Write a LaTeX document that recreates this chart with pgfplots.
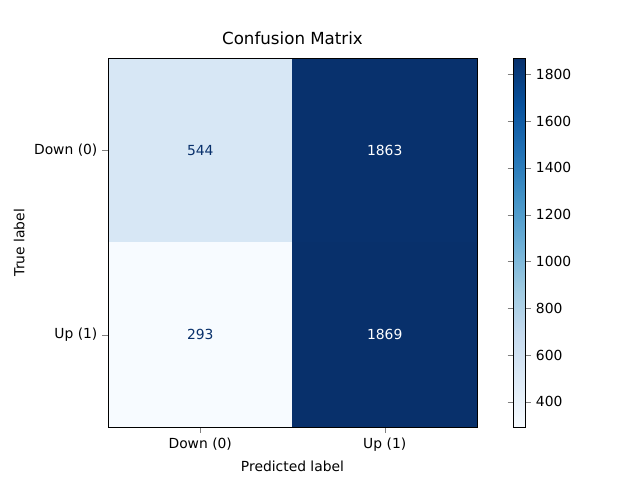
\documentclass[border=0pt]{standalone}
\usepackage{pgfplots}
\pgfplotsset{compat=1.18}
\usepackage{fontspec}
\setmainfont{DejaVu Sans}
\definecolor{dtext}{RGB}{8,48,107}
\begin{document}
\fontsize{10.4}{12}\selectfont
\begin{tikzpicture}
\useasboundingbox (0,0) rectangle (480pt,360pt);
\begin{axis}[
  at={(81pt,39.75pt)}, anchor=south west,
  scale only axis, width=276.75pt, height=276.75pt,
  xmin=-0.5, xmax=1.5, ymin=-0.5, ymax=1.5, y dir=reverse,
  xtick={0,1}, ytick={0,1},
  xticklabels={Down (0),Up (1)}, yticklabels={Down (0),Up (1)},
  tick align=outside, tick pos=left,
  xlabel={Predicted label}, ylabel={True label},
  title={\fontsize{12.5}{14}\selectfont Confusion Matrix},
  ticklabel style={font=\fontsize{10.4}{12}\selectfont},
  label style={font=\fontsize{10.4}{12}\selectfont},
  axis on top,
  colormap={blues}{rgb255=(247,251,255) rgb255=(222,235,247) rgb255=(198,219,239) rgb255=(158,202,225) rgb255=(107,174,214) rgb255=(66,146,198) rgb255=(33,113,181) rgb255=(8,81,156) rgb255=(8,48,107)},
  point meta min=293, point meta max=1869,
  colorbar,
  colorbar style={
    at={(parent axis.north east)}, anchor=north west, xshift=18.75pt,
    width=9pt,
    ytick={400,600,...,1800},
    /pgf/number format/assume math mode=true,
    /pgf/number format/set thousands separator={},
    yticklabel style={font=\fontsize{10.4}{12}\selectfont},
    tick align=outside,
  },
]
\addplot[matrix plot*, mesh/cols=2, point meta=explicit] table[meta=c] {
x y c
0 0 544
1 0 1863
0 1 293
1 1 1869
};
\addplot[only marks, mark=none, nodes near coords, point meta=explicit symbolic,
  nodes near coords style={text=dtext, anchor=center, font=\fontsize{10.4}{12}\selectfont}]
  table[meta=c] {
x y c
0 0 544
0 1 293
};
\addplot[only marks, mark=none, nodes near coords, point meta=explicit symbolic,
  nodes near coords style={text=white, anchor=center, font=\fontsize{10.4}{12}\selectfont}]
  table[meta=c] {
x y c
1 0 1863
1 1 1869
};
\end{axis}
\end{tikzpicture}
\end{document}
